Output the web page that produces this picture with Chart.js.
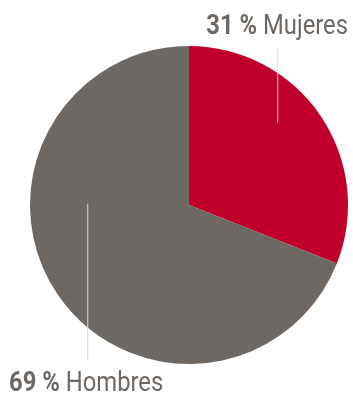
<!DOCTYPE html>
<html>
<head>
<meta charset="utf-8">
<script src="https://cdn.jsdelivr.net/npm/chart.js@4/dist/chart.umd.min.js"></script>
<style>
  html, body { margin: 0; padding: 0; background: #fff; }
  canvas { display: block; }
</style>
</head>
<body>
<canvas id="pieChart" width="353" height="398"></canvas>
<script>
const labels = ['Mujeres', 'Hombres'];
const values = [31, 69];
const colors = ['#c0002b', '#6d6864'];

const FONT = "'Roboto', 'Liberation Sans', sans-serif";
const SQUEEZE = 0.85; // fake a condensed face

// leader lines + labels, placed relative to the pie
const callouts = {
  id: 'callouts',
  afterDraw(chart) {
    const arc = chart.getDatasetMeta(0).data[0];
    const cx = arc.x, cy = arc.y, r = arc.outerRadius;
    const ctx = chart.ctx;
    ctx.save();
    ctx.strokeStyle = '#dcdcdc';
    ctx.lineWidth = 1;
    ctx.beginPath();
    ctx.moveTo(cx + 0.555 * r + 0.5, cy - 0.98 * r);
    ctx.lineTo(cx + 0.555 * r + 0.5, cy - 0.52 * r);
    ctx.moveTo(cx - 0.64 * r + 0.5, cy - 0.005 * r);
    ctx.lineTo(cx - 0.64 * r + 0.5, cy + 0.98 * r);
    ctx.stroke();

    const drawLabel = (i, x, y, align) => {
      const num = values[i] + ' % ';
      ctx.fillStyle = '#6d6864';
      ctx.textBaseline = 'alphabetic';
      ctx.textAlign = 'left';
      ctx.font = 'bold 28px ' + FONT;
      const w1 = ctx.measureText(num).width;
      ctx.font = '28px ' + FONT;
      const w2 = ctx.measureText(labels[i]).width;
      const total = (w1 + w2) * SQUEEZE;
      const x0 = align === 'right' ? x - total : x;
      ctx.save();
      ctx.translate(x0, y);
      ctx.scale(SQUEEZE, 1);
      ctx.font = 'bold 28px ' + FONT;
      ctx.fillText(num, 0, 0);
      ctx.font = '28px ' + FONT;
      ctx.fillText(labels[i], w1, 0);
      ctx.restore();
    };
    drawLabel(0, cx + r, cy - 171, 'right');
    drawLabel(1, cx - r - 21, cy + 186, 'left');
    ctx.restore();
  }
};

new Chart(document.getElementById('pieChart').getContext('2d'), {
  type: 'pie',
  data: {
    labels: labels,
    datasets: [{
      data: values,
      backgroundColor: colors,
      borderWidth: 0
    }]
  },
  options: {
    responsive: false,
    animation: false,
    layout: { padding: { left: 30, right: 5, top: 46, bottom: 34 } },
    plugins: {
      legend: { display: false },
      tooltip: { enabled: false }
    }
  },
  plugins: [callouts]
});
</script>
</body>
</html>
